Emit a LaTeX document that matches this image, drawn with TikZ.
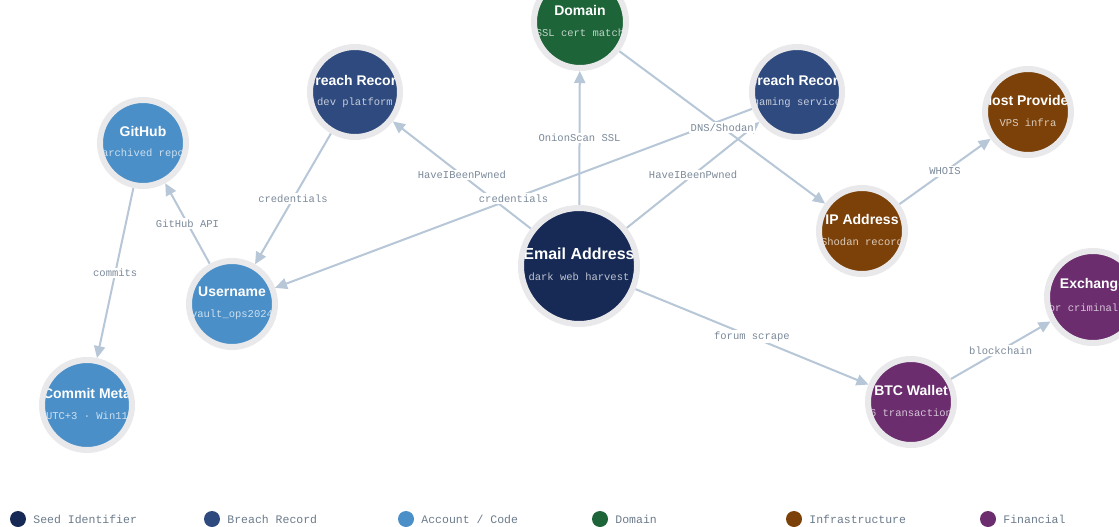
\documentclass[tikz,border=0pt]{standalone}
\usepackage{fontspec}
\setsansfont{Liberation Sans}
\setmonofont{Liberation Mono}
\usetikzlibrary{arrows.meta}
\usetikzlibrary{positioning}
\usetikzlibrary{backgrounds}

\definecolor{seedc}{HTML}{172A55}
\definecolor{breachc}{HTML}{2E4A7E}
\definecolor{accountc}{HTML}{4A8FC8}
\definecolor{domainc}{HTML}{1D6438}
\definecolor{infrac}{HTML}{7C4108}
\definecolor{financec}{HTML}{6B2D6E}
\definecolor{haloc}{HTML}{E9E9EC}
\definecolor{edgec}{HTML}{B7C7D7}
\definecolor{labelc}{HTML}{7C8A9A}
\definecolor{legendc}{HTML}{6C7B8B}

\tikzstyle{edge} = [draw=edgec, line width=2pt, -{Triangle[length=12pt,width=11pt]}]
\tikzstyle{elabel} = [font=\ttfamily\fontsize{10.5}{12}\selectfont, text=labelc, fill=white, inner sep=1.5pt]
\tikzstyle{legdot} = [circle, minimum size=16pt, inner sep=0pt]
\tikzstyle{legtext} = [font=\ttfamily\fontsize{11.5}{13}\selectfont, text=legendc, inner sep=0pt]
\tikzset{entity/.style n args={3}{circle, draw=haloc, line width=6pt, minimum size=#1, inner sep=0pt,
  path picture={
    \node[text=white, font=\sffamily\bfseries\fontsize{14}{16}\selectfont] at ([yshift=12pt]path picture bounding box.center) {#2};
    \node[text=white, text opacity=0.72, font=\ttfamily\fontsize{10.5}{12}\selectfont] at ([yshift=-11pt]path picture bounding box.center) {#3};
  }}}

\begin{document}
\begin{tikzpicture}[x=1pt, y=-1pt]
\useasboundingbox (0,0) rectangle (1119,527);

% entities
\node (domain) [entity={92pt}{Domain}{SSL cert match}, fill=domainc] at (580,22) {};
\node (breachdev) [entity={90pt}{Breach Record}{dev platform}, fill=breachc] at (355,92) {};
\node (breachgame) [entity={90pt}{Breach Record}{gaming service}, fill=breachc] at (797,92) {};
\node (host) [entity={86pt}{Host Provider}{VPS infra}, fill=infrac] at (1028,112) {};
\node (github) [entity={86pt}{GitHub}{archived repo}, fill=accountc] at (143,143) {};
\node (email) [entity={116pt}{\fontsize{16}{18}\selectfont Email Address}{dark web harvest}, fill=seedc] at (579,266) {};
\node (username) [entity={86pt}{Username}{vault\_ops2024}, fill=accountc] at (232,304) {};
\node (ip) [entity={86pt}{IP Address}{Shodan record}, fill=infrac] at (862,231) {};
\node (exchange) [entity={92pt}{Exchange}{for criminal use}, fill=financec] at (1093,297) {};
\node (btc) [entity={86pt}{BTC Wallet}{16 transactions}, fill=financec] at (911,402) {};
\node (commit) [entity={90pt}{Commit Meta}{UTC+3 · Win11}, fill=accountc] at (87,405) {};

% links
\begin{pgfonlayer}{background}
\fill[white] (0,0) rectangle (1119,527);
\draw[edge] (email) -- node[elabel] {OnionScan SSL} (domain);
\draw[edge] (email) -- node[elabel] {HaveIBeenPwned} (breachdev);
\draw[edge] (email) -- node[elabel] {HaveIBeenPwned} (breachgame);
\draw[edge] (breachgame) -- node[elabel] {credentials} (username);
\draw[edge] (domain) -- node[elabel] {DNS/Shodan} (ip);
\draw[edge] (breachdev) -- node[elabel] {credentials} (username);
\draw[edge] (username) -- node[elabel] {GitHub API} (github);
\draw[edge] (github) -- node[elabel] {commits} (commit);
\draw[edge] (ip) -- node[elabel] {WHOIS} (host);
\draw[edge] (email) -- node[elabel] {forum scrape} (btc);
\draw[edge] (btc) -- node[elabel] {blockchain} (exchange);
\end{pgfonlayer}

% legend
\node (lseed) [legdot, fill=seedc] at (18,519) {};
\node [legtext, right=7pt of lseed] {Seed Identifier};
\node (lbreach) [legdot, fill=breachc] at (212,519) {};
\node [legtext, right=7pt of lbreach] {Breach Record};
\node (laccount) [legdot, fill=accountc] at (406,519) {};
\node [legtext, right=7pt of laccount] {Account / Code};
\node (ldomain) [legdot, fill=domainc] at (600,519) {};
\node [legtext, right=7pt of ldomain] {Domain};
\node (linfra) [legdot, fill=infrac] at (794,519) {};
\node [legtext, right=7pt of linfra] {Infrastructure};
\node (lfinance) [legdot, fill=financec] at (988,519) {};
\node [legtext, right=7pt of lfinance] {Financial};
\end{tikzpicture}
\end{document}
